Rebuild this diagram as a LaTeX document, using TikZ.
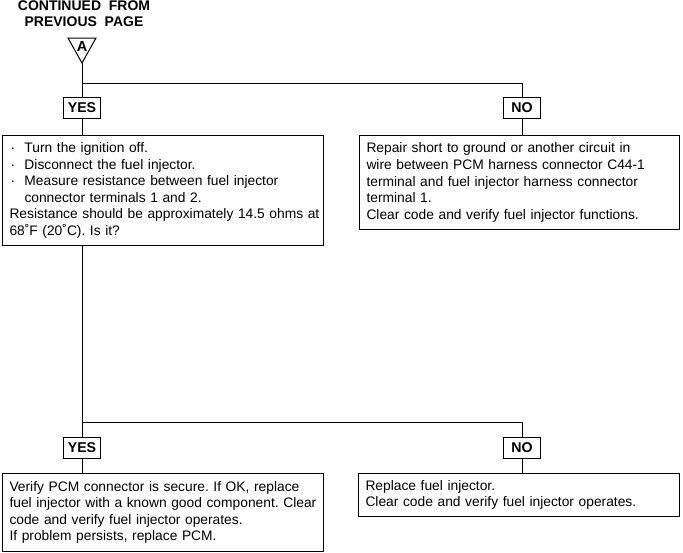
\documentclass[tikz,border=0pt]{standalone}
\usepackage{fontspec}
\setmainfont{Liberation Sans}
\begin{document}
\frenchspacing
\begin{tikzpicture}[x=1pt,y=-1pt,line width=1pt,
  lbl/.style={draw,font=\bfseries\fontsize{14.2}{16}\selectfont,minimum width=37pt,minimum height=21pt,inner sep=0pt},
  txtbox/.style={draw,anchor=north west,align=left,inner xsep=7pt,inner ysep=3pt,font=\fontsize{13.8}{16.6}\selectfont},
  hdr/.style={font=\bfseries\fontsize{14}{16}\selectfont,align=center}]
\useasboundingbox (0,0) rectangle (683,552);
\node[hdr] (hdr) at (84,14) {CONTINUED\ \ FROM\\PREVIOUS\ \ PAGE};
\coordinate (tl) at (68,38);
\coordinate (tr) at (96,38);
\coordinate (apex) at (82,63);
\draw (tl) -- (tr) -- (apex) -- cycle;
\node[font=\bfseries\fontsize{14.5}{16}\selectfont,inner sep=0pt] (A) at (82,46.5) {A};
\node[lbl] (yes1) at (82,107.5) {YES};
\node[lbl] (no1) at (522,107.5) {NO};
\coordinate (b1) at (82,83);
\draw (apex) -- (yes1.north);
\draw (b1) -| (no1.north);
\node[txtbox,minimum width=321pt,minimum height=110pt,text width=307pt] (box1) at (2,135) {%
\makebox[15pt][l]{\hspace{1pt}·}Turn the ignition off.\\
\makebox[15pt][l]{\hspace{1pt}·}Disconnect the fuel injector.\\
\makebox[15pt][l]{\hspace{1pt}·}Measure resistance between fuel injector\\
\makebox[15pt][l]{}connector terminals 1 and 2.\\
\mbox{Resistance should be approximately 14.5 ohms at}\\
68˚F (20˚C). Is it?};
\node[txtbox,minimum width=320pt,minimum height=94pt,text width=306pt] (box2) at (359,135) {%
Repair short to ground or another circuit in\\
wire between PCM harness connector C44-1\\
terminal and fuel injector harness connector\\
terminal 1.\\
\mbox{Clear code and verify fuel injector functions.}};
\draw (yes1.south) -- (box1.north -| yes1.south);
\draw (no1.south) -- (box2.north -| no1.south);
\node[lbl] (yes2) at (82,447.5) {YES};
\node[lbl] (no2) at (522,447.5) {NO};
\coordinate (b2) at (82,422);
\draw (box1.south -| yes2.north) -- (yes2.north);
\draw (b2) -| (no2.north);
\node[txtbox,minimum width=321pt,minimum height=78pt,text width=307pt] (box3) at (2,473) {%
Verify PCM connector is secure. If OK, replace\\
\mbox{fuel injector with a known good component. Clear}\\
code and verify fuel injector operates.\\
If problem persists, replace PCM.};
\node[txtbox,minimum width=321pt,minimum height=43pt,text width=307pt] (box4) at (358,473) {%
Replace fuel injector.\\
\mbox{Clear code and verify fuel injector operates.}};
\draw (yes2.south) -- (box3.north -| yes2.south);
\draw (no2.south) -- (box4.north -| no2.south);
\end{tikzpicture}
\end{document}
